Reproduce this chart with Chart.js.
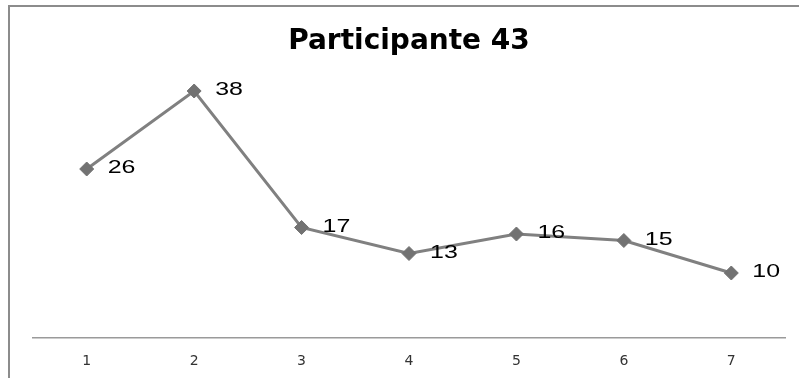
<!DOCTYPE html>
<html>
<head>
<meta charset="utf-8">
<script src="https://cdn.jsdelivr.net/npm/chart.js@4/dist/chart.umd.min.js"></script>
<style>
  html, body { margin: 0; padding: 0; background: #fff; }
  #wrap { position: relative; width: 799px; height: 378px; overflow: hidden; }
  #frame { position: absolute; left: 8px; top: 5px; width: 900px; height: 500px;
           border-top: 2px solid #8c8c8c; border-left: 2px solid #8c8c8c; box-sizing: border-box; }
  canvas { position: absolute; left: 0; top: 0; }
</style>
</head>
<body>
<div id="wrap">
  <div id="frame"></div>
  <canvas id="c" width="799" height="378"></canvas>
</div>
<script>
const sessions = ['1', '2', '3', '4', '5', '6', '7'];
const scores = [26, 38, 17, 13, 16, 15, 10];
const chartTitle = 'Participante 43';

// Writes each point's value just to the right of its marker (slightly widened glyphs)
const pointValues = {
  id: 'pointValues',
  afterDatasetsDraw(chart) {
    const ctx = chart.ctx;
    const meta = chart.getDatasetMeta(0);
    const stretch = 1.35;
    ctx.save();
    ctx.font = '18.5px "Liberation Sans", Arial, sans-serif';
    ctx.fillStyle = '#000';
    ctx.textAlign = 'left';
    ctx.textBaseline = 'middle';
    meta.data.forEach((pt, i) => {
      ctx.save();
      ctx.translate(pt.x + 21, pt.y - 1);
      ctx.scale(stretch, 1);
      ctx.fillText(String(scores[i]), 0, 0);
      ctx.restore();
    });
    ctx.restore();
  }
};

new Chart(document.getElementById('c'), {
  type: 'line',
  data: {
    labels: sessions,
    datasets: [{
      data: scores,
      borderColor: '#808080',
      borderWidth: 3,
      backgroundColor: '#727272',
      pointBackgroundColor: '#727272',
      pointBorderColor: '#727272',
      pointStyle: 'rectRot',
      pointRadius: 7,
      pointBorderWidth: 1,
      tension: 0,
      fill: false
    }]
  },
  options: {
    responsive: false,
    animation: false,
    events: [],
    layout: { padding: { left: 33, right: 14, top: 0, bottom: 0 } },
    plugins: {
      legend: { display: false },
      tooltip: { enabled: false },
      title: {
        display: true,
        text: chartTitle,
        color: '#000',
        font: { family: '"DejaVu Sans", sans-serif', size: 28, weight: 'bold' },
        padding: { top: 25, bottom: 19.4 }
      }
    },
    scales: {
      x: {
        offset: true,
        grid: { display: false, drawTicks: false },
        border: { display: true, color: '#9a9a9a', width: 1.5 },
        ticks: {
          color: '#333',
          padding: 15,
          font: { family: '"DejaVu Sans", Verdana, sans-serif', size: 14 }
        },
        afterFit(scale) { scale.height = 40; }
      },
      y: {
        display: false,
        min: 0,
        max: 40
      }
    }
  },
  plugins: [pointValues]
});
</script>
</body>
</html>
